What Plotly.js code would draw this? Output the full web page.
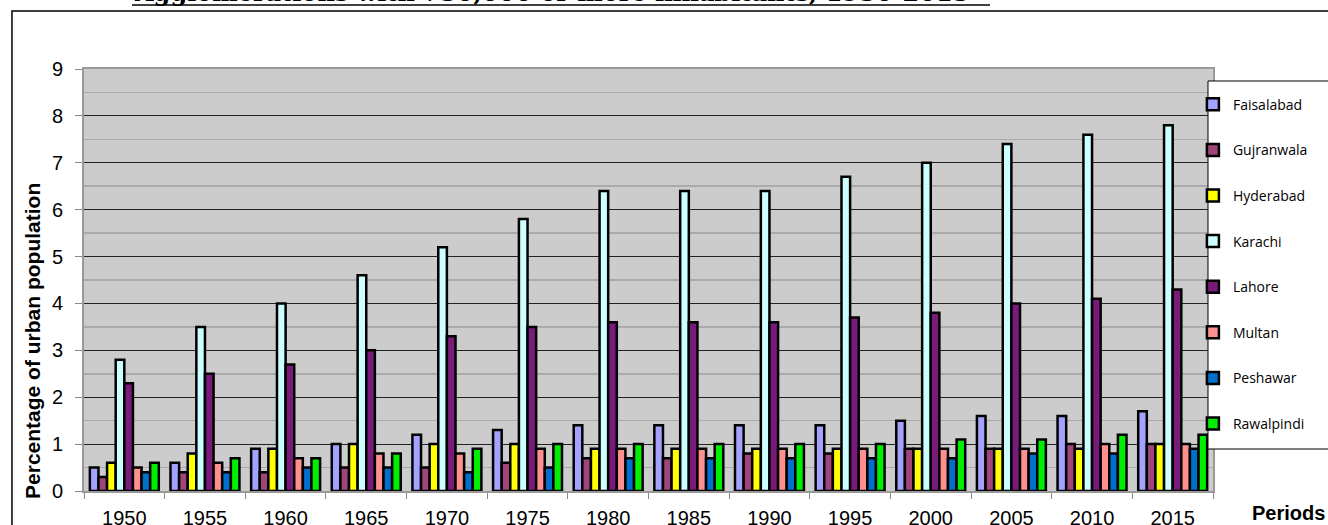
<!DOCTYPE html>
<html>
<head>
<meta charset="utf-8">
<script src="https://cdn.plot.ly/plotly-3.0.1.min.js"></script>
<style>html,body{margin:0;padding:0;background:#fff;}#chart{width:1328px;height:525px;}</style>
</head>
<body>
<div id="chart"></div>
<script>
const periods = ['1950','1955','1960','1965','1970','1975','1980','1985','1990','1995','2000','2005','2010','2015'];
const cities = ['Faisalabad','Gujranwala','Hyderabad','Karachi','Lahore','Multan','Peshawar','Rawalpindi'];
const faisalabad = [0.5,0.6,0.9,1.0,1.2,1.3,1.4,1.4,1.4,1.4,1.5,1.6,1.6,1.7];
const gujranwala = [0.3,0.4,0.4,0.5,0.5,0.6,0.7,0.7,0.8,0.8,0.9,0.9,1.0,1.0];
const hyderabad  = [0.6,0.8,0.9,1.0,1.0,1.0,0.9,0.9,0.9,0.9,0.9,0.9,0.9,1.0];
const karachi    = [2.8,3.5,4.0,4.6,5.2,5.8,6.4,6.4,6.4,6.7,7.0,7.4,7.6,7.8];
const lahore     = [2.3,2.5,2.7,3.0,3.3,3.5,3.6,3.6,3.6,3.7,3.8,4.0,4.1,4.3];
const multan     = [0.5,0.6,0.7,0.8,0.8,0.9,0.9,0.9,0.9,0.9,0.9,0.9,1.0,1.0];
const peshawar   = [0.4,0.4,0.5,0.5,0.4,0.5,0.7,0.7,0.7,0.7,0.7,0.8,0.8,0.9];
const rawalpindi = [0.6,0.7,0.7,0.8,0.9,1.0,1.0,1.0,1.0,1.0,1.1,1.1,1.2,1.2];
const seriesValues = [faisalabad,gujranwala,hyderabad,karachi,lahore,multan,peshawar,rawalpindi];
const colors = ['#a3a3ff','#a0457a','#ffff00','#ccffff','#7a1a7a','#ff9090','#0070cc','#00ee00'];
const chartTitle = 'Agglomerations with 750,000 or more inhabitants, 1950-2015';
const yTitle = 'Percentage of urban population';
const xTitle = 'Periods';

const traces = cities.map((name, i) => ({
  type: 'bar',
  name: name,
  x: periods,
  y: seriesValues[i],
  legendgroup: 'g' + i,
  marker: {color: colors[i], line: {color: '#000', width: 2.5}},
  hoverinfo: 'x+y+name'
}));

const layout = {
  width: 1328, height: 525,
  margin: {l: 84, r: 115, t: 69, b: 34},
  paper_bgcolor: '#ffffff',
  plot_bgcolor: '#cccccc',
  barmode: 'group',
  bargap: 0.145,
  bargroupgap: 0,
  font: {family: 'Liberation Sans, Arial, sans-serif', color: '#000'},
  showlegend: true,
  legend: {
    x: 0.9822, xanchor: 'left', y: 0.9533, yanchor: 'top',
    maxheight: 500,
    bgcolor: 'rgba(0,0,0,0)', borderwidth: 0,
    font: {family: 'Open Sans, sans-serif', size: 14, color: '#000'},
    traceorder: 'grouped', tracegroupgap: 24.4
  },
  xaxis: {
    type: 'category',
    tickfont: {size: 20, family: 'Liberation Sans, Arial, sans-serif'},
    ticks: 'outside', tickson: 'boundaries', ticklen: 6, tickcolor: '#888', tickwidth: 1,
    showline: true, linecolor: '#999', linewidth: 2, mirror: true,
    ticklabelstandoff: 8,
    showgrid: false, zeroline: false, fixedrange: true, automargin: false
  },
  yaxis: {
    range: [0, 9], dtick: 1, tick0: 0,
    tickfont: {size: 20, family: 'Liberation Sans, Arial, sans-serif'},
    ticks: 'outside', ticklen: 7, tickcolor: '#888', tickwidth: 1,
    showline: true, linecolor: '#999', linewidth: 2, mirror: true,
    ticklabelstandoff: 8,
    showgrid: true, gridcolor: '#222', gridwidth: 1,
    minor: {dtick: 0.5, showgrid: true, gridcolor: '#aaaaaa', gridwidth: 1.5},
    zeroline: false, fixedrange: true, automargin: false
  },
  shapes: [
    {type: 'rect', xref: 'paper', yref: 'paper', x0: -0.0638, x1: 1.12, y0: -0.0924, y1: 1.1374,
     line: {color: '#000', width: 1.5}, fillcolor: 'rgba(0,0,0,0)', layer: 'above'},
    {type: 'rect', xref: 'paper', yref: 'paper', x0: 0.99557, x1: 1.12, y0: 0.0995, y1: 0.9716,
     line: {color: '#000', width: 1}, fillcolor: '#ffffff', layer: 'above'},
    {type: 'line', xref: 'paper', yref: 'paper', x0: 0.0425, x1: 0.8025, y0: 1.1517, y1: 1.1517,
     line: {color: '#000', width: 1.5}, layer: 'above'}
  ],
  annotations: [
    {text: '<b>' + chartTitle + '</b>', xref: 'paper', yref: 'paper', x: 0.0425, y: 1.1422,
     xanchor: 'left', yanchor: 'bottom', showarrow: false,
     font: {family: 'DejaVu Serif, serif', size: 24, color: '#000'}},
    {text: '<b>' + yTitle + '</b>', xref: 'paper', yref: 'paper', x: -0.0452, y: 0.3555,
     xanchor: 'center', yanchor: 'middle', textangle: -90, showarrow: false,
     font: {family: 'Liberation Sans, Arial, sans-serif', size: 21, color: '#000'}},
    {text: '<b>' + xTitle + '</b>', xref: 'paper', yref: 'paper', x: 1.0673, y: -0.0521,
     xanchor: 'center', yanchor: 'middle', showarrow: false,
     font: {family: 'Liberation Sans, Arial, sans-serif', size: 20, color: '#000'}}
  ]
};

Plotly.newPlot('chart', traces, layout, {displayModeBar: false, staticPlot: true});
</script>
</body>
</html>
